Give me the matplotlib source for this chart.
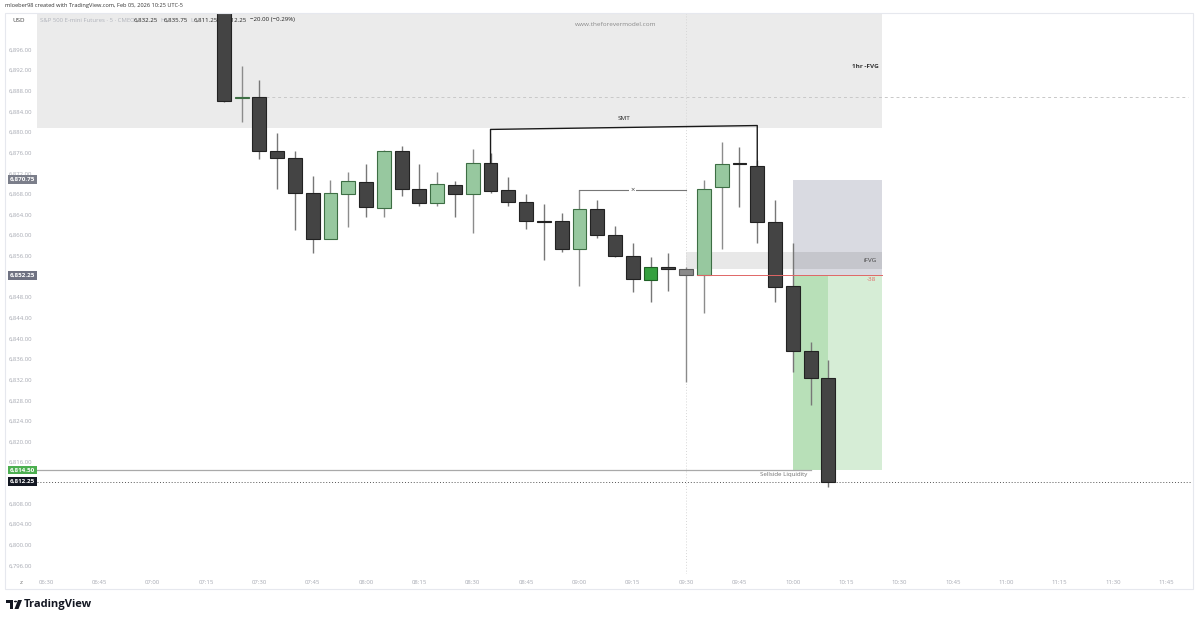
import matplotlib.pyplot as plt
import matplotlib.patches as mpatches
import numpy as np
import pandas as pd

plt.rcParams['font.family'] = ['Open Sans', 'DejaVu Sans']

# ---- data: ES 5-minute bars, 07:20 -> 10:10 ----
session_start = "06:30"
first_bar = "07:20"
opens = [6906.0, 6886.5, 6886.75, 6876.25, 6875.0, 6868.25, 6859.25, 6868.0, 6870.25, 6865.25,
         6876.25, 6869.0, 6866.25, 6869.75, 6868.0, 6874.0, 6868.75, 6866.5, 6862.75, 6862.75,
         6857.25, 6865.0, 6860.0, 6856.0, 6851.25, 6853.75, 6853.5, 6852.25, 6869.25, 6873.75,
         6873.5, 6862.5, 6850.25, 6837.5, 6832.25]
highs = [6908.0, 6892.75, 6890.0, 6879.75, 6876.25, 6871.5, 6870.75, 6872.25, 6873.75, 6876.5,
         6877.25, 6873.75, 6872.25, 6870.5, 6876.75, 6876.0, 6871.25, 6868.0, 6866.0, 6864.25,
         6868.75, 6866.75, 6861.75, 6858.5, 6855.75, 6856.5, 6853.75, 6870.75, 6878.0, 6877.0,
         6874.5, 6866.75, 6858.5, 6839.25, 6835.75]
lows = [6885.75, 6882.0, 6874.75, 6869.0, 6861.0, 6856.5, 6859.25, 6861.5, 6863.5, 6863.5,
        6867.5, 6865.75, 6865.75, 6863.5, 6860.5, 6868.25, 6865.75, 6861.25, 6855.25, 6856.75,
        6850.25, 6859.5, 6855.75, 6849.0, 6847.0, 6849.25, 6831.5, 6845.0, 6857.25, 6865.5,
        6858.5, 6847.0, 6833.5, 6827.0, 6811.25]
closes = [6886.0, 6886.75, 6876.25, 6875.0, 6868.25, 6859.25, 6868.25, 6870.5, 6865.5, 6876.25,
          6869.0, 6866.25, 6870.0, 6868.0, 6874.0, 6868.5, 6866.5, 6862.75, 6862.5, 6857.25,
          6865.0, 6860.0, 6856.0, 6851.5, 6853.75, 6853.5, 6852.25, 6869.0, 6873.75, 6873.75,
          6862.5, 6850.0, 6837.5, 6832.25, 6812.25]

time_ticks = ["06:30", "06:45", "07:00", "07:15", "07:30", "07:45", "08:00", "08:15",
              "08:30", "08:45", "09:00", "09:15", "09:30", "09:45", "10:00", "10:15",
              "10:30", "10:45", "11:00", "11:15", "11:30", "11:45"]
price_ticks = [6796, 6800, 6804, 6808, 6816, 6820, 6824, 6828, 6832, 6836, 6840, 6844, 6848,
               6856, 6860, 6864, 6868, 6872, 6876, 6880, 6884, 6888, 6892, 6896]

# drawings
fvg_1h_low = 6880.75
fvg_1h_end = "10:25"
prior_level = 6886.75
smt_start, smt_end = "08:35", "09:50"
smt_top = (6880.5, 6881.25)
x_line_level = 6868.75
x_line_span = ("09:00", "09:30")
ifvg = (6853.5, 6856.75)
entry, stop, target = 6852.25, 6870.75, 6814.5
trade_start, trade_now, trade_end = "10:00", "10:10", "10:25"
sellside = 6814.5
sellside_end = "10:05"
last_price = 6812.25


def bar_x(t):
    d = pd.Timestamp("2026-02-05 " + t) - pd.Timestamp("2026-02-05 " + session_start)
    return d.total_seconds() / 300.0


x0 = bar_x(first_bar)
xs = x0 + np.arange(len(opens))

W, H = 1200, 619
fig = plt.figure(figsize=(12, 6.19), dpi=100)
ax = fig.add_axes([37 / W, (H - 574) / H, (1192 - 37) / W, (574 - 13) / H])
ax.set_xlim(-0.506, 64.45)
ax.set_ylim(6794.34, 6903.06)
for s in ax.spines.values():
    s.set_visible(False)

# zones
xl = -1
ax.add_patch(mpatches.Rectangle((xl, fvg_1h_low), bar_x(fvg_1h_end) - xl, 40,
                                facecolor='#ebebeb', edgecolor='none', zorder=0.5))
ax.text(bar_x(fvg_1h_end) - 0.15, 6892.6, "1hr -FVG", ha='right', va='center',
        fontsize=4.6, fontweight='bold', color='#333333', zorder=5)
ax.plot([bar_x("07:30") + 0.4, 64.2], [prior_level, prior_level], ls=(0, (3, 3)),
        color='#c8c8c8', lw=0.7, zorder=1.5)
ax.axvline(bar_x("09:30"), color='#d6d6d6', lw=0.7, ls=(0, (1, 2)), zorder=1.4)

ts, tn, te = bar_x(trade_start), bar_x(trade_now), bar_x(trade_end)
ax.add_patch(mpatches.Rectangle((ts, entry), te - ts, stop - entry,
                                facecolor='#d9dae1', edgecolor='none', zorder=1))
ax.add_patch(mpatches.Rectangle((ts, target), te - ts, entry - target,
                                facecolor='#d6edd6', edgecolor='none', zorder=1))
ax.add_patch(mpatches.Rectangle((ts, target), tn - ts, entry - target,
                                facecolor='#b8e0b8', edgecolor='none', zorder=1.1))
ix = bar_x("09:30")
ax.add_patch(mpatches.Rectangle((ix, ifvg[0]), te - ix, ifvg[1] - ifvg[0],
                                facecolor='black', alpha=0.09, edgecolor='none', zorder=1.2))
ax.text(te - 0.3, sum(ifvg) / 2, "iFVG", ha='right', va='center', fontsize=4.6,
        color='#444444', zorder=5)
ax.plot([bar_x("09:30") + 0.6, te], [entry, entry], color='#e06666', lw=0.7, zorder=4)
ax.text(te - 0.3, entry - 0.8, "-38", ha='right', va='center', fontsize=4.6,
        color='#e06666', zorder=5)

ax.plot([xl, bar_x(sellside_end)], [sellside, sellside], color='#a9a9a9', lw=0.9, zorder=1.5)
ax.text(bar_x(sellside_end) - 1.5, sellside - 0.9, "Sellside Liquidity", ha='center',
        va='center', fontsize=4.4, color='#707070', zorder=5)
ax.axhline(last_price, color='#555555', lw=0.7, ls=(0, (1, 2)), zorder=1.5)

# candles
width = 0.78
for i, (x, o, h, l, c) in enumerate(zip(xs, opens, highs, lows, closes)):
    if i == 24:
        face, edge, wick = '#35a03f', '#1f5f25', '#777777'
    elif i == 26:
        face, edge, wick = '#8a8a8a', '#5a5a5a', '#8a8a8a'
    elif c > o:
        face, edge, wick = '#97c89f', '#3d6e44', '#8c8c8c'
    else:
        face, edge, wick = '#444444', '#222222', '#777777'
    ax.vlines(x, l, h, color=wick, lw=1.0, zorder=2)
    bot = min(o, c)
    hgt = max(abs(c - o), 0.3)
    ax.add_patch(mpatches.Rectangle((x - width / 2, bot), width, hgt, facecolor=face,
                                    edgecolor=edge, lw=0.8, zorder=3))

# SMT bracket
sa, sb = bar_x(smt_start), bar_x(smt_end)
ia, ib = int(round(sa - x0)), int(round(sb - x0))
ax.plot([sa, sa, sb, sb], [opens[ia], smt_top[0], smt_top[1], opens[ib]],
        color='#1a1a1a', lw=1.0, zorder=4)
ax.text((sa + sb) / 2, smt_top[1] + 1.3, "SMT", ha='center', va='center', fontsize=4.6,
        color='#222222', zorder=5)

xa, xb = bar_x(x_line_span[0]), bar_x(x_line_span[1])
ax.plot([xa, xb], [x_line_level, x_line_level], color='#777777', lw=0.8, zorder=4)
ax.text((xa + xb) / 2, x_line_level, "×", ha='center', va='center', fontsize=5.5,
        color='#444444', zorder=5,
        bbox=dict(boxstyle='square,pad=0.15', facecolor='white', edgecolor='none'))

# axes ticks
ax.set_yticks(price_ticks, [f"{v:,.2f}" for v in price_ticks])
ax.tick_params(axis='y', length=0, pad=3.5, labelsize=4.3, labelcolor='#a6a9b2')
ax.set_xticks([bar_x(t) for t in time_ticks], time_ticks)
ax.tick_params(axis='x', length=0, pad=4.5, labelsize=4.3, labelcolor='#a6a9b2')

# price labels on the axis
ytr = ax.get_yaxis_transform()
for val, col in [(stop, '#7b7e8a'), (entry, '#6f7282'), (sellside, '#4caf50'),
                 (last_price, '#131722')]:
    ax.text(-0.0015, val, f"{val:,.2f}", transform=ytr, ha='right', va='center',
            fontsize=4.5, color='white', fontweight='bold', zorder=6, clip_on=False,
            bbox=dict(boxstyle='square,pad=0.3', facecolor=col, edgecolor='none'))


# header / legend texts (pixel positions)
def axpos(px, py):
    return (px - 37) / (1192 - 37), (574 - py) / (574 - 13)


ax.text(*axpos(40, 20), "S&P 500 E-mini Futures · 5 · CME", transform=ax.transAxes,
        fontsize=4.3, color='#b0b3bb', va='center', zorder=1)
legend_items = [("O", "6,832.25", 130), ("H", "6,835.75", 160), ("L", "6,811.25", 190),
                ("C", "6,812.25", 219)]
for k, v, px in legend_items:
    ax.text(*axpos(px, 20), k, transform=ax.transAxes, fontsize=4.4, color='#b0b3bb',
            va='center', zorder=1)
    ax.text(*axpos(px + 4, 20), v, transform=ax.transAxes, fontsize=4.4, color='#222222',
            va='center', zorder=1)
ax.text(*axpos(250, 20), "−20.00 (−0.29%)", transform=ax.transAxes, fontsize=4.4,
        color='#222222', va='center', zorder=1)
ax.text(*axpos(616, 24), "www.theforevermodel.com", transform=ax.transAxes, fontsize=4.6,
        color='#8a8a8a', ha='center', va='center', zorder=5)

fig.text(5 / W, 1 - 6 / H, "mloeber98 created with TradingView.com, Feb 05, 2026 10:25 UTC-5",
         fontsize=4.1, color='#333333', va='center')
fig.text(12 / W, 1 - 21 / H, "USD", fontsize=4.5, color='#444444', va='center')
fig.text(21 / W, 1 - 582 / H, "z", fontsize=4.6, color='#777777', va='center', ha='center')

# widget border
fig.patches.append(mpatches.Rectangle((5 / W, 1 - 589 / H), (1193 - 5) / W, (589 - 13) / H,
                                      transform=fig.transFigure, facecolor='none',
                                      edgecolor='#e6e8ee', lw=0.8))

# TradingView logo
lw_ = dict(transform=fig.transFigure, facecolor='#131722', edgecolor='none')
fig.patches.append(mpatches.Rectangle((6 / W, 1 - 603 / H), 7 / W, 3.5 / H, **lw_))
fig.patches.append(mpatches.Rectangle((9.5 / W, 1 - 609 / H), 3.5 / W, 9 / H, **lw_))
fig.patches.append(mpatches.Circle((15.5 / W, 1 - 601.5 / H), 1.6 / W, **lw_))
fig.patches.append(mpatches.Polygon([(18 / W, 1 - 600 / H), (22 / W, 1 - 600 / H),
                                     (18.5 / W, 1 - 609 / H), (14.5 / W, 1 - 609 / H)], **lw_))
fig.text(24 / W, 1 - 604.5 / H, "TradingView", fontsize=8, fontweight='bold',
         color='#131722', va='center')

fig.savefig("out.png", dpi=100)
